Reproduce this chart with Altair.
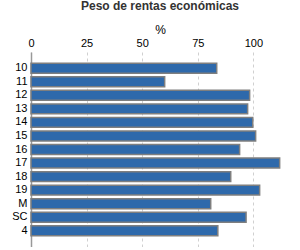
import altair as alt
import pandas as pd

categories = ["10", "11", "12", "13", "14", "15", "16", "17", "18", "19", "M", "SC", "4"]
values = [83.5, 60.1, 98.3, 97.4, 99.7, 101.0, 93.8, 111.8, 89.8, 102.8, 80.8, 96.7, 84.0]
tick_values = [0, 25, 50, 75, 100]

df = pd.DataFrame({"cat": categories, "val": values})

chart = alt.Chart(df).mark_bar(
    color="#2E69AB", stroke="#7F7F7F", strokeWidth=1.5
).encode(
    x=alt.X("val:Q", title="%",
            scale=alt.Scale(domain=[0, 116], nice=False),
            axis=alt.Axis(orient="top", values=tick_values, grid=True, gridDash=[3, 3],
                          gridColor="#D0D0D0", domain=False, ticks=False, labelFlush=False,
                          labelFont="Liberation Sans", labelFontSize=11, labelColor="#000",
                          labelPadding=4, titleFont="Liberation Sans", titleFontSize=12,
                          titleFontWeight="normal", titleColor="#000", titlePadding=1)),
    y=alt.Y("cat:N", title=None, sort=categories,
            scale=alt.Scale(paddingInner=0.27, paddingOuter=0.83),
            axis=alt.Axis(ticks=False, domainColor="#999999", domainWidth=1.5,
                          labelFont="Liberation Sans", labelFontSize=11, labelColor="#000",
                          labelPadding=4)),
).properties(
    width=258, height=195,
    title=alt.TitleParams("Peso de rentas económicas", font="Liberation Sans", fontSize=12,
                          fontWeight="bold", color="#333333", anchor="middle", offset=10),
    padding={"left": 31, "top": 52, "right": 0, "bottom": 0},
    autosize=alt.AutoSizeParams(type="none"),
).configure_view(stroke=None)

chart.save("out.html", embed_options={"renderer": "svg", "actions": False})
